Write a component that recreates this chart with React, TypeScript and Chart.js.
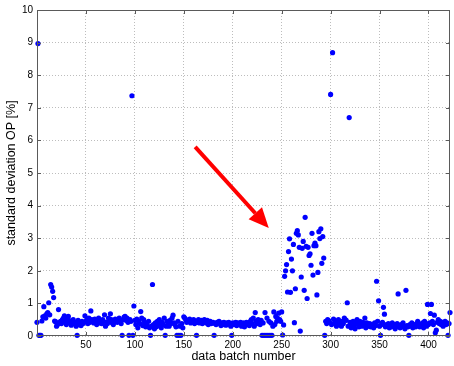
import React, { useEffect, useRef } from "react";
import { Chart, registerables } from "chart.js";

Chart.register(...registerables);

// standard deviation OP [%] for each data batch (index = batch number)
const BATCH_STD: number[] = [
  0.42, 8.97, 0.02, 0.02, 0.02, 0.46, 0.59, 0.9, 0.62, 0.55,
  0.68, 0.72, 1.02, 0.65, 1.58, 1.5, 1.37, 1.18, 0.46, 0.44,
  0.3, 0.35, 0.81, 0.4, 0.45, 0.38, 0.5, 0.55, 0.62, 0.42,
  0.35, 0.52, 0.6, 0.47, 0.4, 0.33, 0.45, 0.5, 0.38, 0.42,
  0.3, 0.02, 0.48, 0.35, 0.4, 0.32, 0.45, 0.38, 0.42, 0.62,
  0.45, 0.5, 0.38, 0.55, 0.42, 0.77, 0.5, 0.45, 0.4, 0.52,
  0.48, 0.35, 0.45, 0.55, 0.4, 0.42, 0.38, 0.5, 0.45, 0.65,
  0.3, 0.42, 0.38, 0.55, 0.45, 0.68, 0.5, 0.4, 0.35, 0.48,
  0.52, 0.45, 0.42, 0.5, 0.55, 0.45, 0.38, 0.02, 0.5, 0.58,
  0.6, 0.48, 0.55, 0.42, 0.02, 0.5, 0.45, 7.37, 0.02, 0.92,
  0.48, 0.35, 0.52, 0.25, 0.45, 0.38, 0.75, 0.55, 0.32, 0.5,
  0.42, 0.28, 0.35, 0.3, 0.45, 0.25, 0.02, 0.3, 1.58, 0.35,
  0.22, 0.4, 0.28, 0.45, 0.32, 0.5, 0.38, 0.25, 0.42, 0.35,
  0.55, 0.02, 0.3, 0.45, 0.4, 0.3, 0.48, 0.38, 0.55, 0.64,
  0.4, 0.35, 0.28, 0.02, 0.45, 0.02, 0.3, 0.02, 0.38, 0.25,
  0.59, 0.55, 0.5, 0.42, 0.48, 0.45, 0.52, 0.4, 0.47, 0.43,
  0.5, 0.38, 0.45, 0.02, 0.42, 0.5, 0.4, 0.45, 0.48, 0.38,
  0.42, 0.5, 0.45, 0.4, 0.48, 0.35, 0.42, 0.45, 0.38, 0.4,
  0.42, 0.02, 0.38, 0.35, 0.42, 0.4, 0.45, 0.38, 0.32, 0.4,
  0.35, 0.42, 0.38, 0.33, 0.4, 0.36, 0.42, 0.38, 0.3, 0.02,
  0.4, 0.35, 0.38, 0.42, 0.32, 0.4, 0.35, 0.38, 0.42, 0.3,
  0.35, 0.4, 0.28, 0.38, 0.42, 0.35, 0.4, 0.32, 0.45, 0.5,
  0.38, 0.55, 0.3, 0.72, 0.45, 0.38, 0.5, 0.42, 0.35, 0.48,
  0.02, 0.4, 0.02, 0.72, 0.02, 0.55, 0.02, 0.45, 0.02, 0.4,
  0.02, 0.3, 0.74, 0.35, 0.6, 0.45, 0.54, 0.7, 0.5, 0.45,
  0.74, 0.03, 0.34, 1.83, 2.0, 2.19, 1.35, 2.59, 2.98, 1.34,
  2.36, 2.0, 2.81, 0.41, 1.45, 3.15, 3.23, 3.1, 2.72, 0.15,
  1.81, 2.69, 2.9, 1.4, 3.64, 2.75, 1.15, 2.72, 2.47, 2.52,
  2.17, 3.15, 1.87, 2.77, 2.85, 2.77, 1.26, 1.95, 3.2, 2.99,
  3.29, 2.23, 3.05, 2.39, 0.02, 0.45, 0.38, 0.5, 0.47, 0.42,
  7.41, 0.35, 8.69, 0.52, 0.4, 0.45, 0.3, 0.38, 0.5, 0.42,
  0.35, 0.3, 0.45, 0.38, 0.55, 0.5, 0.48, 1.02, 0.3, 6.7,
  0.42, 0.25, 0.35, 0.45, 0.3, 0.22, 0.4, 0.5, 0.35, 0.28,
  0.45, 0.38, 0.3, 0.42, 0.35, 0.55, 0.25, 0.4, 0.32, 0.3,
  0.38, 0.28, 0.35, 0.3, 0.25, 0.4, 0.32, 1.68, 0.45, 1.08,
  0.3, 0.02, 0.35, 0.42, 0.88, 0.67, 0.28, 0.35, 0.3, 0.38,
  0.25, 0.32, 0.28, 0.4, 0.3, 0.35, 0.22, 0.28, 0.38, 1.29,
  0.3, 0.25, 0.35, 0.28, 0.4, 0.3, 0.22, 1.4, 0.32, 0.28,
  0.02, 0.35, 0.3, 0.4, 0.25, 0.35, 0.3, 0.28, 0.38, 0.45,
  0.32, 0.28, 0.35, 0.3, 0.4, 0.25, 0.45, 0.38, 0.3, 0.97,
  0.35, 0.4, 0.69, 0.97, 0.45, 0.35, 0.64, 0.1, 0.18, 0.42,
  0.5, 0.38, 0.45, 0.35, 0.42, 0.3, 0.38, 0.45, 0.35, 0.4,
  0.02, 0.38, 0.72,
];

const X_MIN = 0;
const X_MAX = 422;
const X_TICKS = [50, 100, 150, 200, 250, 300, 350, 400];
const Y_TICKS = [0, 1, 2, 3, 4, 5, 6, 7, 8, 9, 10];

// annotation arrow, in data coordinates [batch, std]
const ARROW_FROM = [161.6, 5.8];
const ARROW_TO = [236.8, 3.31];

const FONT = "'Liberation Sans', Arial, Helvetica, sans-serif";
const BOX_COLOR = "#5a5a5a";

const matlabPlugin = {
  id: "matlabDecor",
  afterDraw(chart: any) {
    const { ctx, chartArea } = chart;
    const xs = chart.scales.x;
    const ys = chart.scales.y;
    const { left, right, top, bottom } = chartArea;
    ctx.save();
    // box
    ctx.strokeStyle = BOX_COLOR;
    ctx.lineWidth = 1;
    ctx.setLineDash([]);
    ctx.strokeRect(left + 0.5, top + 0.5, right - left - 1, bottom - top - 1);
    // inward ticks
    const tl = 4;
    ctx.beginPath();
    X_TICKS.forEach((t) => {
      const px = Math.round(xs.getPixelForValue(t)) + 0.5;
      ctx.moveTo(px, bottom);
      ctx.lineTo(px, bottom - tl);
      ctx.moveTo(px, top);
      ctx.lineTo(px, top + tl);
    });
    Y_TICKS.forEach((t) => {
      const py = Math.round(ys.getPixelForValue(t)) + 0.5;
      ctx.moveTo(left, py);
      ctx.lineTo(left + tl, py);
      ctx.moveTo(right, py);
      ctx.lineTo(right - tl, py);
    });
    ctx.stroke();

    // red arrow
    const x1 = xs.getPixelForValue(ARROW_FROM[0]);
    const y1 = ys.getPixelForValue(ARROW_FROM[1]);
    const x2 = xs.getPixelForValue(ARROW_TO[0]);
    const y2 = ys.getPixelForValue(ARROW_TO[1]);
    const ang = Math.atan2(y2 - y1, x2 - x1);
    const headLen = 20;
    const headHalf = 9;
    const bx = x2 - headLen * Math.cos(ang);
    const by = y2 - headLen * Math.sin(ang);
    ctx.strokeStyle = "#ff0000";
    ctx.fillStyle = "#ff0000";
    ctx.lineWidth = 4;
    ctx.lineCap = "butt";
    ctx.beginPath();
    ctx.moveTo(x1, y1);
    ctx.lineTo(bx, by);
    ctx.stroke();
    ctx.beginPath();
    ctx.moveTo(x2, y2);
    ctx.lineTo(bx + headHalf * Math.sin(ang), by - headHalf * Math.cos(ang));
    ctx.lineTo(bx - headHalf * Math.sin(ang), by + headHalf * Math.cos(ang));
    ctx.closePath();
    ctx.fill();
    ctx.restore();
  },
};

export default function App() {
  const ref = useRef<HTMLCanvasElement | null>(null);

  useEffect(() => {
    if (!ref.current) return;
    const points = BATCH_STD.map((v, i) => ({ x: i, y: v }));
    const chart = new Chart(ref.current, {
      type: "scatter",
      data: {
        datasets: [
          {
            data: points,
            backgroundColor: "#0000ff",
            borderColor: "#0000ff",
            pointRadius: 2.6,
            pointBorderWidth: 0,
            clip: false as any,
          },
        ],
      },
      options: {
        responsive: false,
        animation: false,
        events: [],
        layout: { padding: { top: 8, right: 1, left: 0, bottom: 0 } },
        plugins: {
          legend: { display: false },
          tooltip: { enabled: false },
        },
        scales: {
          x: {
            type: "linear",
            min: X_MIN,
            max: X_MAX,
            afterBuildTicks: (s: any) => {
              s.ticks = X_TICKS.map((v) => ({ value: v }));
            },
            afterFit: (s: any) => {
              s.height = 30;
            },
            ticks: {
              font: { family: FONT, size: 10 },
              color: "#000",
              padding: 3,
              maxRotation: 0,
              autoSkip: false,
            },
            grid: { color: "#bdbdbd", drawTicks: false, lineWidth: 1 },
            border: { display: false, dash: [1, 2] },
            title: {
              display: true,
              text: "data batch number",
              font: { family: FONT, size: 12.5 },
              color: "#000",
              padding: { top: 0, bottom: 1.5 },
            },
          },
          y: {
            type: "linear",
            min: 0,
            max: 10,
            afterBuildTicks: (s: any) => {
              s.ticks = Y_TICKS.map((v) => ({ value: v }));
            },
            afterFit: (s: any) => {
              s.width = 37;
            },
            ticks: {
              font: { family: FONT, size: 10 },
              color: "#000",
              padding: 4,
              autoSkip: false,
            },
            grid: { color: "#bdbdbd", drawTicks: false, lineWidth: 1 },
            border: { display: false, dash: [1, 2] },
            title: {
              display: true,
              text: "standard deviation OP [%]",
              font: { family: FONT, size: 12.5 },
              color: "#000",
              padding: { top: 4.5, bottom: 0 },
            },
          },
        },
      },
      plugins: [matlabPlugin],
    });
    return () => chart.destroy();
  }, []);

  return (
    <div style={{ position: "absolute", left: 0, top: 0, width: 454, height: 366, background: "#fff" }}>
      <canvas ref={ref} width={454} height={366} style={{ display: "block" }} />
    </div>
  );
}
